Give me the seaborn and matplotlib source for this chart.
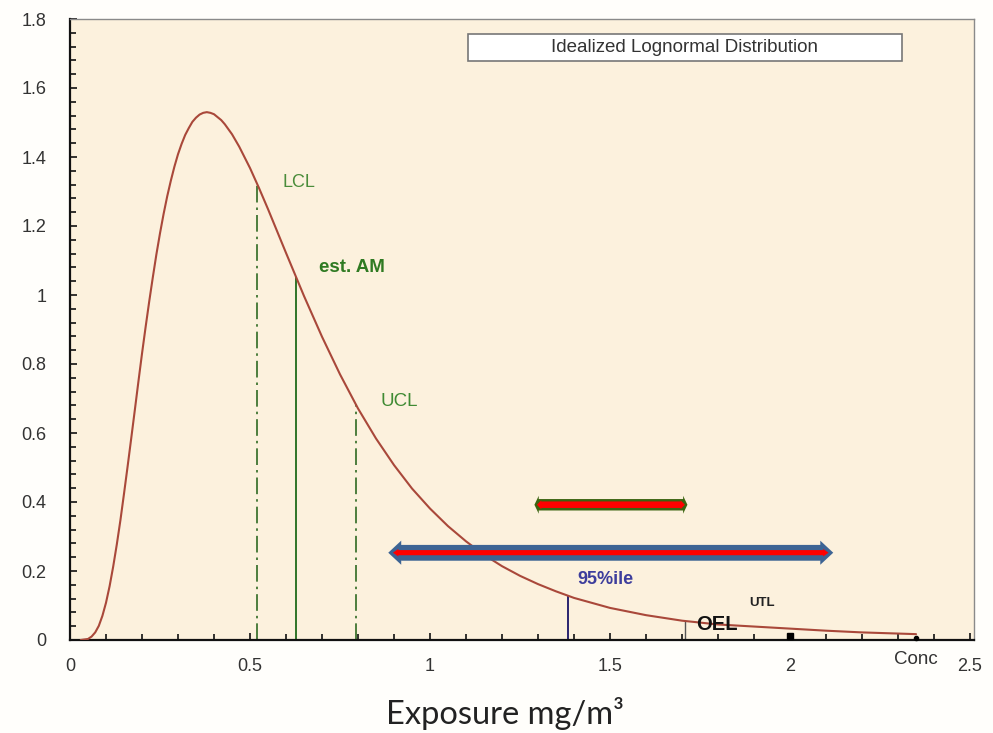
import numpy as np
import matplotlib
matplotlib.use("Agg")
import matplotlib.pyplot as plt
from matplotlib.ticker import MultipleLocator
from matplotlib.patches import FancyArrow, Rectangle
import seaborn as sns
import pandas as pd

# ---- data ----
conc = [0.03, 0.05, 0.06, 0.07, 0.08, 0.09, 0.10, 0.11, 0.12, 0.13, 0.14, 0.15, 0.16,
        0.17, 0.18, 0.19, 0.20, 0.21, 0.22, 0.23, 0.24, 0.25, 0.26, 0.27, 0.28,
        0.29, 0.30, 0.31, 0.32, 0.33, 0.34, 0.35, 0.36, 0.37, 0.38, 0.39, 0.40,
        0.42, 0.43, 0.45, 0.47, 0.50, 0.525, 0.55, 0.60, 0.65, 0.70, 0.75, 0.80,
        0.85, 0.90, 0.95, 1.00, 1.05, 1.10, 1.15, 1.20, 1.25, 1.30, 1.35, 1.40,
        1.50, 1.60, 1.70, 1.80, 1.90, 2.00, 2.10, 2.20, 2.35]
density = [0.000, 0.003, 0.010, 0.022, 0.041, 0.070, 0.108, 0.156, 0.213, 0.277, 0.347,
           0.424, 0.503, 0.584, 0.666, 0.749, 0.830, 0.907, 0.981, 1.051, 1.118,
           1.179, 1.235, 1.286, 1.331, 1.372, 1.408, 1.438, 1.464, 1.484, 1.502,
           1.514, 1.523, 1.528, 1.530, 1.528, 1.524, 1.507, 1.495, 1.466, 1.430,
           1.368, 1.310, 1.249, 1.122, 0.997, 0.879, 0.770, 0.671, 0.584, 0.507,
           0.439, 0.381, 0.330, 0.286, 0.247, 0.214, 0.186, 0.162, 0.141, 0.122,
           0.093, 0.072, 0.056, 0.045, 0.039, 0.033, 0.027, 0.022, 0.017]

marker_names = ["LCL", "est. AM", "UCL", "95%ile", "OEL"]
marker_x = [0.519, 0.628, 0.794, 1.383, 1.708]

utl_x = 2.0
end_dot_x = 2.35

short_range = [1.29, 1.715]
short_level = 0.392
long_range = [0.884, 2.12]
long_level = 0.253

x_ticks = [0, 0.5, 1, 1.5, 2, 2.5]
x_tick_labels = ["0", "0.5", "1", "1.5", "2", "2.5"]
y_ticks = [0, 0.2, 0.4, 0.6, 0.8, 1.0, 1.2, 1.4, 1.6, 1.8]
y_tick_labels = ["0", "0.2", "0.4", "0.6", "0.8", "1", "1.2", "1.4", "1.6", "1.8"]

title_text = "Idealized Lognormal Distribution"
x_label = "Exposure mg/m³"

# ---- styling ----
sns.set_style("ticks")
plt.rcParams["font.family"] = ["Liberation Sans", "DejaVu Sans"]

W, H = 993, 733
fig = plt.figure(figsize=(W / 100, H / 100), dpi=100, facecolor="#fffefb")
ax = fig.add_axes([70 / W, 1 - 640 / H, 904 / W, 621 / H])
ax.set_facecolor("#fcf1dd")

df = pd.DataFrame({"conc": conc, "density": density})
sns.lineplot(data=df, x="conc", y="density", ax=ax, color="#a9483a", lw=1.5,
             estimator=None, sort=False, zorder=3)

# vertical markers up to the curve
heights = np.interp(marker_x, conc, density)
styles = {
    "LCL": dict(color="#2f6a22", ls=(0, (10, 3, 1.5, 3)), lw=1.2),
    "est. AM": dict(color="#1f6a1a", ls="-", lw=1.3),
    "UCL": dict(color="#2f6a22", ls=(0, (10, 3, 1.5, 3)), lw=1.2),
    "95%ile": dict(color="#2a2470", ls="-", lw=1.4),
    "OEL": dict(color="#555555", ls="-", lw=1.0),
}
for name, xv, hv in zip(marker_names, marker_x, heights):
    ax.vlines(xv, 0, hv, zorder=2, **styles[name])

# labels
ax.text(0.589, 1.326, "LCL", color="#4a8c3a", fontsize=13, va="center", ha="left")
ax.text(0.692, 1.081, "est. AM", color="#2f7a22", fontsize=13.5, fontweight="bold",
        va="center", ha="left")
ax.text(0.862, 0.692, "UCL", color="#3f8a33", fontsize=13.5, va="center", ha="left")
ax.text(1.408, 0.174, "95%ile", color="#3d3d9c", fontsize=13, fontweight="bold",
        va="center", ha="left")
ax.text(1.886, 0.108, "UTL", color="#222222", fontsize=9.5, fontweight="bold",
        va="center", ha="left")
ax.text(1.740, 0.044, "OEL", color="#111111", fontsize=14.5, fontweight="bold",
        va="center", ha="left", zorder=4)

# UTL marker and end dot
ax.plot([utl_x], [0.012], marker="s", color="black", ms=4.5, ls="none", zorder=4,
        clip_on=False)
ax.plot([end_dot_x], [0.006], marker="o", color="black", ms=3, ls="none", zorder=4,
        clip_on=False)


def double_arrow(x0, x1, y, width, head_width, head_length, color, z):
    # two overlapping single-headed arrows; each tail starts where the other head begins
    for start, end in ((x0 + head_length, x1), (x1 - head_length, x0)):
        ax.add_patch(FancyArrow(start, y, end - start, 0, width=width,
                                head_width=head_width, head_length=head_length,
                                length_includes_head=True, color=color, lw=0, zorder=z))


double_arrow(long_range[0], long_range[1], long_level, 0.045, 0.07, 0.036, "#3d6494", 5)
double_arrow(long_range[0] + 0.013, long_range[1] - 0.013, long_level, 0.014, 0.022, 0.015,
             "#ff0000", 6)
double_arrow(short_range[0], short_range[1], short_level, 0.032, 0.052, 0.012, "#3a6410", 5)
double_arrow(short_range[0] + 0.007, short_range[1] - 0.007, short_level, 0.018, 0.026, 0.012,
             "#ff0000", 6)

# axes
ax.set_xlim(0, 2.511)
ax.set_ylim(0, 1.8)
ax.set_xticks(x_ticks)
ax.set_xticklabels(x_tick_labels)
ax.set_yticks(y_ticks)
ax.set_yticklabels(y_tick_labels)
ax.xaxis.set_minor_locator(MultipleLocator(0.1))
ax.yaxis.set_minor_locator(MultipleLocator(0.04))
ax.tick_params(which="both", direction="in", color="#111111", width=1.2,
               labelsize=13, labelcolor="#333333")
ax.tick_params(which="major", length=5)
ax.tick_params(which="minor", length=4)
ax.tick_params(axis="y", which="both", pad=17)
ax.tick_params(axis="x", which="both", pad=13)
ax.set_xlabel("")
ax.set_ylabel("")

for side in ("left", "bottom"):
    ax.spines[side].set_color("#111111")
    ax.spines[side].set_linewidth(1.6)
for side in ("top", "right"):
    ax.spines[side].set_visible(True)
    ax.spines[side].set_color("#8a8a8a")
    ax.spines[side].set_linewidth(1.0)

# "Conc" label near the end of the x axis
ax.text(2.29, -0.031, "Conc", transform=ax.get_xaxis_transform(), fontsize=13.5,
        color="#333333", va="center", ha="left")

# title box
ax.add_patch(Rectangle((0.440, 0.932), 0.480, 0.044, transform=ax.transAxes,
                       facecolor="white", edgecolor="#777777", lw=1.2, zorder=5))
ax.text(0.680, 0.954, title_text, transform=ax.transAxes, fontsize=13.5,
        color="#333333", ha="center", va="center", zorder=6)

# x label
fig.text(505 / W, 1 - 714 / H, x_label, fontsize=23.5, color="#222222",
         family=["Lato", "DejaVu Sans"], ha="center", va="center")

fig.savefig("out.png", dpi=100, facecolor=fig.get_facecolor())
